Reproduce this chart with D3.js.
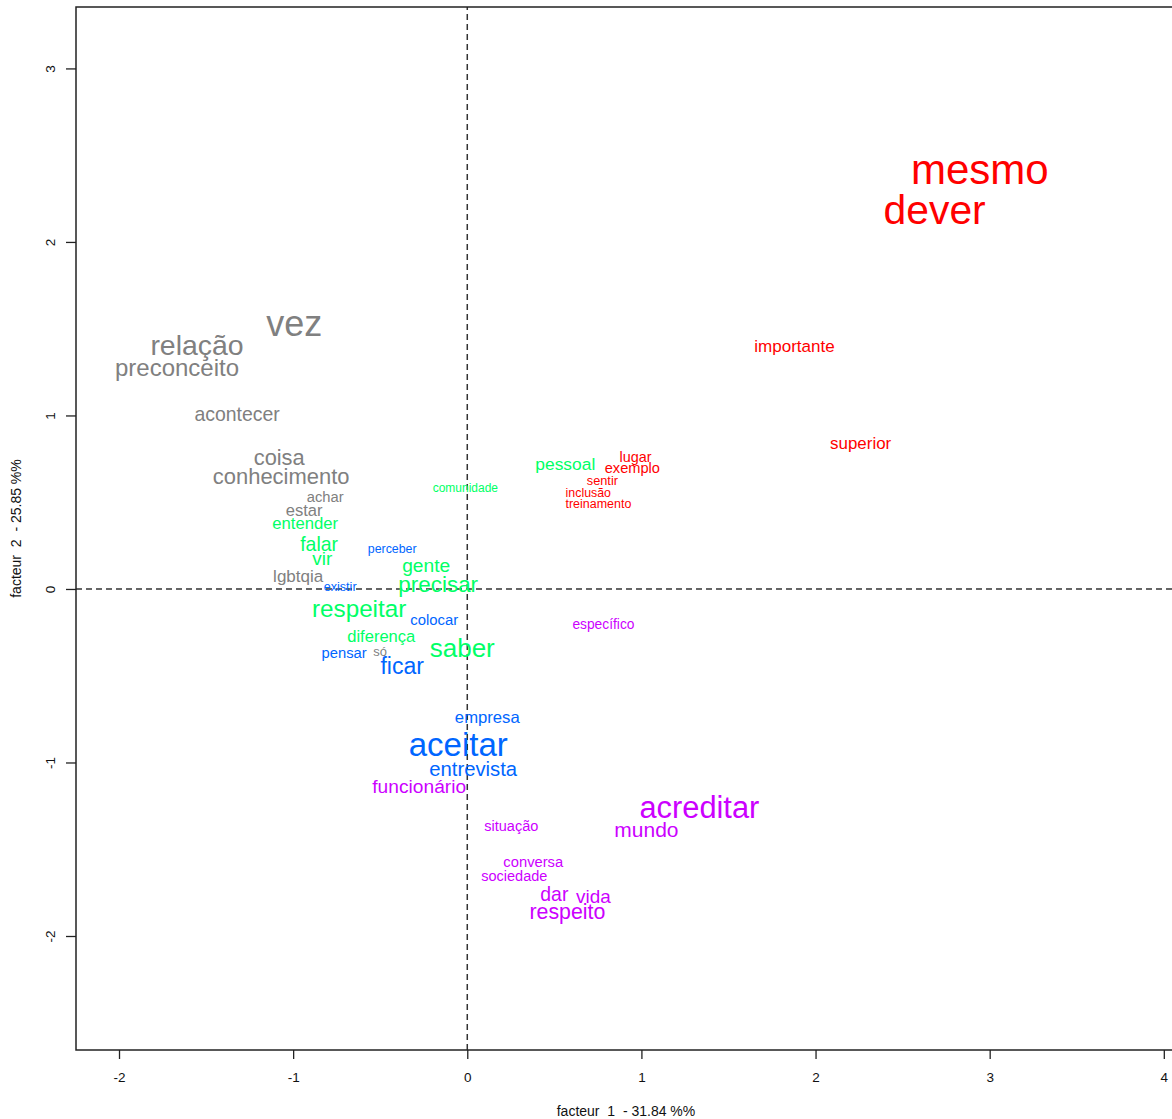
<!DOCTYPE html>
<html>
<head>
<meta charset="utf-8">
<script src="https://cdn.jsdelivr.net/npm/d3@7"></script>
<style>
  body { margin: 0; background: #fff; }
  text { font-family: "Liberation Sans", Arial, sans-serif; }
</style>
</head>
<body>
<div id="chart"></div>
<script>
// words of the correspondence analysis, by class
const words = ["mesmo", "dever", "importante", "superior", "lugar", "exemplo", "sentir", "inclusão", "treinamento",
  "vez", "relação", "preconceito", "acontecer", "coisa", "conhecimento", "achar", "estar", "lgbtqia", "só",
  "comunidade", "pessoal", "entender", "falar", "vir", "gente", "precisar", "respeitar", "diferença", "saber",
  "perceber", "existir", "colocar", "pensar", "ficar", "empresa", "aceitar", "entrevista",
  "específico", "funcionário", "acreditar", "mundo", "situação", "conversa", "sociedade", "dar", "vida", "respeito"];

const classes = [1, 1, 1, 1, 1, 1, 1, 1, 1,
  2, 2, 2, 2, 2, 2, 2, 2, 2, 2,
  3, 3, 3, 3, 3, 3, 3, 3, 3, 3,
  4, 4, 4, 4, 4, 4, 4, 4,
  5, 5, 5, 5, 5, 5, 5, 5, 5, 5];

const factor1 = [2.943, 2.684, 1.879, 2.259, 0.966, 0.948, 0.776, 0.695, 0.753,
  -0.994, -1.552, -1.667, -1.322, -1.080, -1.069, -0.816, -0.937, -0.971, -0.500,
  -0.011, 0.563, -0.931, -0.851, -0.833, -0.236, -0.167, -0.621, -0.494, -0.029,
  -0.431, -0.730, -0.190, -0.707, -0.374, 0.115, -0.052, 0.034,
  0.782, -0.276, 1.333, 1.029, 0.253, 0.379, 0.270, 0.500, 0.724, 0.575];

const factor2 = [2.415, 2.184, 1.401, 0.841, 0.761, 0.697, 0.622, 0.553, 0.490,
  1.527, 1.406, 1.274, 1.009, 0.755, 0.646, 0.530, 0.455, 0.075, -0.363,
  0.582, 0.720, 0.380, 0.259, 0.173, 0.133, 0.029, -0.115, -0.271, -0.340,
  0.231, 0.012, -0.179, -0.369, -0.444, -0.738, -0.899, -1.037,
  -0.202, -1.141, -1.262, -1.389, -1.366, -1.573, -1.654, -1.758, -1.775, -1.862];

// relative label size (cex)
const cex = [3.5, 3.4, 1.42, 1.41, 1.2, 1.22, 1.06, 1.03, 1.04,
  3.0, 2.37, 2.0, 1.62, 1.82, 1.83, 1.23, 1.38, 1.42, 1.08,
  1.0, 1.45, 1.39, 1.62, 1.58, 1.6, 1.87, 2.02, 1.38, 2.17,
  1.03, 1.05, 1.24, 1.23, 1.92, 1.39, 2.75, 1.69,
  1.15, 1.6, 2.57, 1.75, 1.21, 1.23, 1.21, 1.62, 1.58, 1.78];

const classColors = { 1: "#FF0000", 2: "#808080", 3: "#00FF66", 4: "#0066FF", 5: "#CC00FF" };

const xTicks = [-2, -1, 0, 1, 2, 3, 4];
const yTicks = [-2, -1, 0, 1, 2, 3];
const xLabel = "facteur  1  - 31.84 %%";
const yLabel = "facteur  2  - 25.85 %%";

const width = 1172, height = 1119;
const margin = { left: 76, top: 7, right: -4, bottom: 69 };

const x = d3.scaleLinear().domain([-2.247, 4.07]).range([margin.left, width - margin.right]);
const y = d3.scaleLinear().domain([-2.657, 3.354]).range([height - margin.bottom, margin.top]);
const fontSize = d3.scaleLinear().domain([0, 1]).range([0, 12]);

const svg = d3.select("#chart").append("svg")
  .attr("width", width).attr("height", height);

// reference lines
svg.append("line")
  .attr("x1", x(0)).attr("x2", x(0))
  .attr("y1", y.range()[0]).attr("y2", y.range()[1])
  .attr("stroke", "#333").attr("stroke-width", 1.5).attr("stroke-dasharray", "6,4");
svg.append("line")
  .attr("x1", x.range()[0]).attr("x2", x.range()[1])
  .attr("y1", y(0)).attr("y2", y(0))
  .attr("stroke", "#333").attr("stroke-width", 1.5).attr("stroke-dasharray", "6,4");

// words
const data = words.map((w, i) => ({ w, c: classes[i], f1: factor1[i], f2: factor2[i], s: cex[i] }));
svg.append("g").selectAll("text")
  .data(data)
  .join("text")
  .attr("x", d => x(d.f1))
  .attr("y", d => y(d.f2))
  .attr("dy", "0.34em")
  .attr("text-anchor", "middle")
  .attr("font-size", d => fontSize(d.s))
  .attr("fill", d => classColors[d.c])
  .text(d => d.w);

// box
svg.append("rect")
  .attr("x", x.range()[0]).attr("y", y.range()[1])
  .attr("width", x.range()[1] - x.range()[0])
  .attr("height", y.range()[0] - y.range()[1])
  .attr("fill", "none").attr("stroke", "#222").attr("stroke-width", 1.5);

// axes (R style)
const xAxis = svg.append("g")
  .attr("transform", `translate(0,${y.range()[0]})`)
  .call(d3.axisBottom(x).tickValues(xTicks).tickSize(9).tickPadding(13).tickFormat(d => String(d)));
xAxis.select(".domain").remove();
xAxis.selectAll(".tick line").attr("stroke", "#222").attr("stroke-width", 1.3);
xAxis.selectAll("text").attr("font-size", 13.5).attr("fill", "#111")
  .style("font-family", "'Liberation Sans', Arial, sans-serif");

const yAxis = svg.append("g")
  .attr("transform", `translate(${x.range()[0]},0)`)
  .call(d3.axisLeft(y).tickValues(yTicks).tickSize(10).tickPadding(0).tickFormat(d => String(d)));
yAxis.select(".domain").remove();
yAxis.selectAll(".tick line").attr("stroke", "#222").attr("stroke-width", 1.3);
yAxis.selectAll("text")
  .attr("font-size", 13.5).attr("fill", "#111")
  .attr("x", 0).attr("dy", 0)
  .attr("text-anchor", "middle")
  .attr("transform", "translate(-21,0) rotate(-90)")
  .style("font-family", "'Liberation Sans', Arial, sans-serif");

svg.append("text")
  .attr("x", (76 + x.range()[1]) / 2).attr("y", 1116)
  .attr("text-anchor", "middle").attr("font-size", 14).attr("fill", "#111")
  .attr("xml:space", "preserve")
  .text(xLabel);

svg.append("text")
  .attr("transform", `translate(21,${(y.range()[0] + y.range()[1]) / 2}) rotate(-90)`)
  .attr("text-anchor", "middle").attr("font-size", 14).attr("fill", "#111")
  .attr("xml:space", "preserve")
  .text(yLabel);
</script>
</body>
</html>
